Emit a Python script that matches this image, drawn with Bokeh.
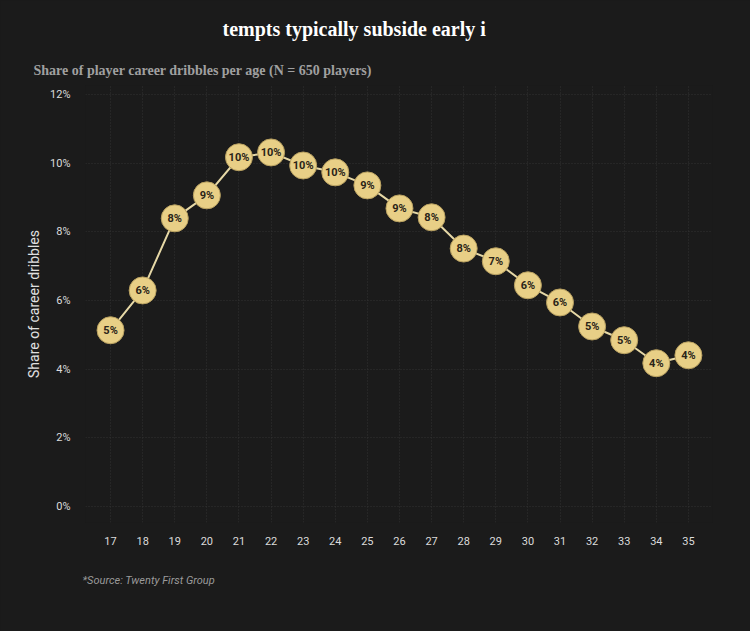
from bokeh.plotting import figure
from bokeh.models import ColumnDataSource, Title, FixedTicker, CustomJSTickFormatter
from bokeh.embed import file_html
from bokeh.resources import INLINE
from bokeh.core.properties import value

ages = [17, 18, 19, 20, 21, 22, 23, 24, 25, 26, 27, 28, 29, 30, 31, 32, 33, 34, 35]
share = [5.13, 6.29, 8.39, 9.06, 10.17, 10.31, 9.93, 9.73, 9.35, 8.68, 8.42, 7.51, 7.14,
         6.44, 5.94, 5.24, 4.84, 4.17, 4.40]
y_ticks = [0, 2, 4, 6, 8, 10, 12]

title_text = "tempts typically subside early i"
subtitle_text = "Share of player career dribbles per age (N = 650 players)"
source_text = "*Source: Twenty First Group"
y_label = "Share of career dribbles"

BG = "#1b1b1b"
GOLD = "#e8cf86"

labels = [f"{round(v)}%" for v in share]
src = ColumnDataSource(dict(x=ages, y=share, label=labels))

p = figure(width=750, height=631, output_backend="svg", toolbar_location=None,
           x_range=(16.22, 35.75), y_range=(-0.47, 12.26),
           background_fill_color=BG, border_fill_color=BG,
           min_border_left=85, min_border_right=38, min_border_top=85, min_border_bottom=109)
p.outline_line_color = None

p.title.text = title_text
p.title.text_font = "Liberation Serif"
p.title.text_font_size = "20px"
p.title.text_font_style = "bold"
p.title.text_color = "#ffffff"
p.title.align = "left"
p.title.offset = 137
p.title.standoff = 25

sub = Title(text=subtitle_text, text_font="Liberation Serif", text_font_size="14px",
            text_font_style="bold", text_color="#a0a0a0", align="left", offset=-52, standoff=16)
p.add_layout(sub, "above")

src_title = Title(text=source_text, text_font="Roboto", text_font_size="11px",
                  text_font_style="italic", text_color="#9a9a9a", align="left", offset=-3, standoff=49)
p.add_layout(src_title, "below")

p.line("x", "y", source=src, line_color="#e6d8a6", line_width=2)
p.scatter("x", "y", source=src, size=27, fill_color=GOLD, line_color="#b8a060", line_width=1)
p.text("x", "y", text="label", source=src, text_align="center", text_baseline="middle",
       text_font=value("Roboto"), text_font_size="11px", text_font_style="bold", text_color="#2a2418")

p.xaxis.ticker = FixedTicker(ticks=ages)
p.yaxis.ticker = FixedTicker(ticks=y_ticks)
p.yaxis.formatter = CustomJSTickFormatter(code="return tick + '%';")

for ax in (p.xaxis, p.yaxis):
    ax.axis_line_color = None
    ax.major_tick_line_color = None
    ax.minor_tick_line_color = None
    ax.major_label_text_color = "#dcdcdc"
    ax.major_label_text_font = "Roboto"
    ax.major_label_text_font_size = "11px"
p.yaxis.major_label_standoff = 9
p.xaxis.major_label_standoff = 8

p.yaxis.axis_label = y_label
p.yaxis.axis_label_text_font = "Roboto"
p.yaxis.axis_label_text_font_size = "14px"
p.yaxis.axis_label_text_font_style = "normal"
p.yaxis.axis_label_text_color = "#e0e0e0"
p.yaxis.axis_label_standoff = 5

p.xgrid.ticker = FixedTicker(ticks=ages)
p.ygrid.ticker = FixedTicker(ticks=y_ticks)
for g in (p.xgrid, p.ygrid):
    g.grid_line_color = "#333333"
    g.grid_line_dash = "1 2"
    g.grid_line_width = 1

html = file_html(p, INLINE)
html = html.replace("<head>", "<head><style>html,body{background:#1b1b1b;margin:0;}</style>", 1)
open("out.html", "w").write(html)
